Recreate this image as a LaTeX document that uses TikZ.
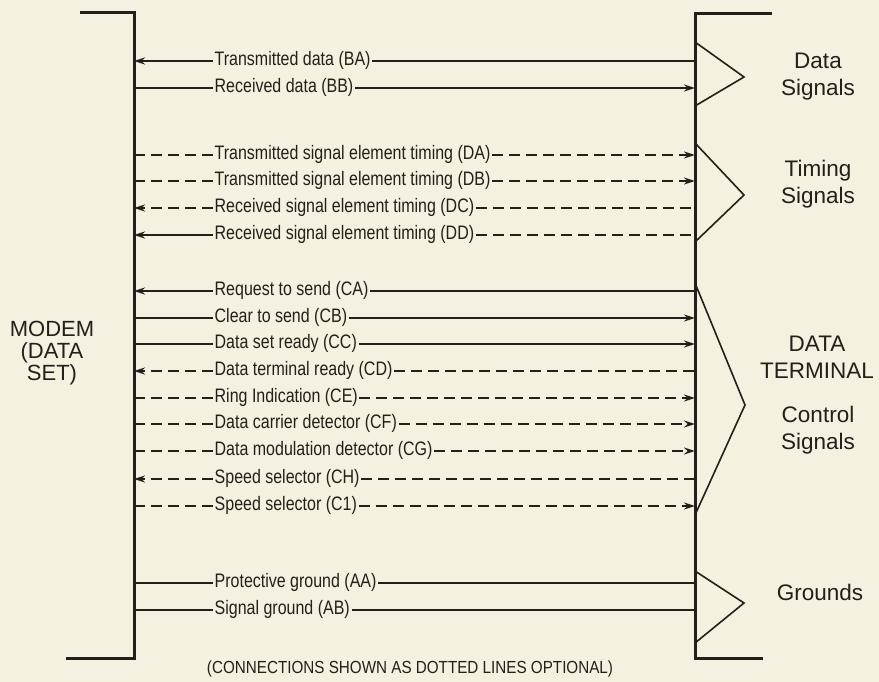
\documentclass[tikz,border=0pt]{standalone}
\usepackage{fontspec}
\usepackage{graphicx}
\setmainfont{Liberation Sans}
\usetikzlibrary{arrows.meta}
\definecolor{paper}{RGB}{244,241,224}
\definecolor{ink}{RGB}{38,30,26}
\newcommand\sigrow[5]{%
  \coordinate (L#1) at (134,#2);
  \coordinate (R#1) at (695,#2);
  \node[lbl] (#1) at (213,#2) {\scalebox{0.82}[1]{#3}};
  \draw[#4] (#1.west) -- (L#1);
  \draw[#5] (#1.east) -- (R#1);
}
\begin{document}
\begin{tikzpicture}[x=1pt,y=-1pt,
  con/.style={draw=ink,line width=1.8pt},
  dsh/.style={con,dash pattern=on 11pt off 6pt},
  arr/.style={-{Stealth[length=11pt,width=7pt]}},
  bracket/.style={draw=ink,line width=3pt,line cap=butt,line join=miter},
  brace/.style={draw=ink,line width=1.6pt,line join=miter},
  lbl/.style={font=\fontsize{19.5}{22}\selectfont,text=ink,inner sep=1.5pt,anchor=west,text height=9.5pt,text depth=0pt},
  big/.style={font=\fontsize{22.5}{27}\selectfont,text=ink,align=center,inner sep=0pt},
  modem/.style={font=\fontsize{22}{22}\selectfont,text=ink,align=center,inner sep=0pt},
  note/.style={font=\fontsize{17.5}{20}\selectfont,text=ink,inner sep=0pt},
]
\fill[paper] (0,0) rectangle (879,682);
\useasboundingbox (0,0) rectangle (879,682);

% brackets
\coordinate (lt) at (80,13);
\coordinate (ltc) at (134,13);
\coordinate (lbc) at (134,658);
\coordinate (lb) at (66,658);
\draw[bracket] (lt) -- (ltc) -- (lbc) -- (lb);
\coordinate (rt) at (772,14);
\coordinate (rtc) at (695,14);
\coordinate (rbc) at (695,658);
\coordinate (rb) at (763,658);
\draw[bracket] (rt) -- (rtc) -- (rbc) -- (rb);

% group triangles
\coordinate (d1) at (695,42);  \coordinate (d2) at (744,77);  \coordinate (d3) at (695,106);
\coordinate (t1) at (695,143); \coordinate (t2) at (744,195); \coordinate (t3) at (695,242);
\coordinate (c1) at (695,283); \coordinate (c2) at (745,405); \coordinate (c3) at (695,515);
\coordinate (g1) at (695,571); \coordinate (g2) at (744,603); \coordinate (g3) at (695,643);
\draw[brace] (d1) -- (d2) -- (d3);
\draw[brace] (t1) -- (t2) -- (t3);
\draw[brace] (c1) -- (c2) -- (c3);
\draw[brace] (g1) -- (g2) -- (g3);

% signal rows
\sigrow{ba}{61}{Transmitted data (BA)}{con,arr}{con}
\sigrow{bb}{88}{Received data (BB)}{con}{con,arr}
\sigrow{da}{155}{Transmitted signal element timing (DA)}{dsh}{dsh,arr}
\sigrow{db}{181}{Transmitted signal element timing (DB)}{dsh}{dsh,arr}
\sigrow{dc}{208}{Received signal element timing (DC)}{dsh,arr}{dsh}
\sigrow{dd}{235}{Received signal element timing (DD)}{con,arr}{dsh}
\sigrow{ca}{291}{Request to send (CA)}{con,arr}{con}
\sigrow{cb}{318}{Clear to send (CB)}{con}{con,arr}
\sigrow{cc}{344}{Data set ready (CC)}{con}{con,arr}
\sigrow{cd}{371}{Data terminal ready (CD)}{dsh,arr}{dsh}
\sigrow{ce}{398}{Ring Indication (CE)}{dsh}{dsh,arr}
\sigrow{cf}{424}{Data carrier detector (CF)}{dsh}{dsh,arr}
\sigrow{cg}{451}{Data modulation detector (CG)}{dsh}{dsh,arr}
\sigrow{ch}{479}{Speed selector (CH)}{dsh,arr}{dsh}
\sigrow{ci}{506}{Speed selector (C1)}{dsh}{dsh,arr}
\sigrow{aa}{583}{Protective ground (AA)}{con}{con}
\sigrow{ab}{610}{Signal ground (AB)}{con}{con}

% side labels
\node[modem] (modem) at (52,353) {MODEM\\(DATA\\SET)};
\node[big] (datasig) at (818,77) {Data\\Signals};
\node[big] (timesig) at (818,184) {Timing\\Signals};
\node[big] (dterm) at (817,357) {DATA\\TERMINAL};
\node[big] (ctrlsig) at (818,430) {Control\\Signals};
\node[big] (grounds) at (820,592) {Grounds};

\node[note] (footnote) at (410,669) {\scalebox{0.87}[1]{(CONNECTIONS SHOWN AS DOTTED LINES OPTIONAL)}};
\end{tikzpicture}
\end{document}
